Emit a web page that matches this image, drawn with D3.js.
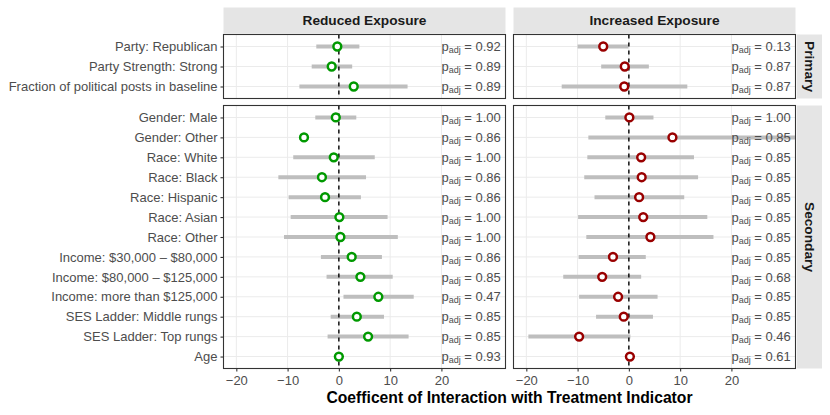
<!DOCTYPE html>
<html>
<head>
<meta charset="utf-8">
<script src="https://cdn.jsdelivr.net/npm/d3@7"></script>
<style>
  body { margin: 0; background: #fff; }
  text { font-family: "Liberation Sans", Arial, sans-serif; }
</style>
</head>
<body>
<svg id="chart" width="830" height="415"></svg>
<script>
// rows per group (top to bottom)
var primaryLabels = ["Party: Republican", "Party Strength: Strong", "Fraction of political posts in baseline"];
var secondaryLabels = ["Gender: Male", "Gender: Other", "Race: White", "Race: Black", "Race: Hispanic",
  "Race: Asian", "Race: Other", "Income: $30,000 – $80,000", "Income: $80,000 – $125,000",
  "Income: more than $125,000", "SES Ladder: Middle rungs", "SES Ladder: Top rungs", "Age"];

var facetNames = ["Reduced Exposure", "Increased Exposure"];
var groupNames = ["Primary", "Secondary"];
var xTicks = [-20, -10, 0, 10, 20];

// estimates and intervals, primary rows then secondary rows
var reducedEst  = [-0.3, -1.4, 2.9, -0.6, -6.8, -1.0, -3.3, -2.7, 0.1, 0.3, 2.5, 4.2, 7.7, 3.5, 5.7, 0.0];
var reducedLow  = [-4.4, -5.3, -7.7, -4.6, null, -8.9, -11.8, -9.8, -9.4, -10.7, -3.5, -2.4, 0.9, -1.6, -2.2, null];
var reducedHigh = [4.0, 2.6, 13.4, 3.4, null, 7.0, 5.3, 4.3, 9.5, 11.5, 8.4, 10.5, 14.6, 8.8, 13.6, null];
var reducedP    = ["0.92", "0.89", "0.89", "1.00", "0.86", "1.00", "0.86", "0.86", "1.00", "1.00", "0.86", "0.85", "0.47", "0.85", "0.85", "0.93"];

var increasedEst  = [-5.0, -0.8, -0.9, 0.1, 8.5, 2.4, 2.5, 2.0, 2.8, 4.2, -3.1, -5.2, -2.1, -1.0, -9.7, 0.2];
var increasedLow  = [-10.0, -5.4, -13.1, -4.6, -7.9, -8.1, -8.7, -6.7, -9.9, -8.3, -9.8, -12.8, -9.7, -6.4, -19.6, null];
var increasedHigh = [-0.1, 3.9, 11.4, 4.8, 34, 12.7, 13.5, 10.8, 15.3, 16.5, 3.3, 2.4, 5.6, 4.7, 0.3, null];
var increasedP    = ["0.13", "0.87", "0.87", "1.00", "0.85", "0.85", "0.85", "0.85", "0.85", "0.85", "0.85", "0.68", "0.85", "0.85", "0.46", "0.61"];

var allLabels = primaryLabels.concat(secondaryLabels);
function buildRows(est, low, high, p) {
  return allLabels.map(function(lab, i) {
    return { label: lab, group: i < primaryLabels.length ? 0 : 1,
             est: est[i], low: low[i], high: high[i], p: p[i] };
  });
}
var facets = [
  { name: facetNames[0], color: "#009900", rows: buildRows(reducedEst, reducedLow, reducedHigh, reducedP) },
  { name: facetNames[1], color: "#990000", rows: buildRows(increasedEst, increasedLow, increasedHigh, increasedP) }
];

var svg = d3.select("#chart");
var font = "'Liberation Sans', Arial, sans-serif";

// panel geometry
var colX = [[223.5, 505.5], [513.5, 795.5]];
var rowY = [[34.5, 98.5], [105.5, 368.5]];
var rowLabels = [primaryLabels, secondaryLabels];

var x = facets.map(function(f, c) {
  return d3.scaleLinear().domain([-22.5, 32.5]).range(colX[c]);
});
var y = rowLabels.map(function(labs, r) {
  return d3.scalePoint().domain(labs).range(rowY[r]).padding(0.6);
});

var defs = svg.append("defs");

facets.forEach(function(f, c) {
  // strip on top
  svg.append("rect")
    .attr("x", colX[c][0]).attr("y", 7.5)
    .attr("width", colX[c][1] - colX[c][0]).attr("height", 26)
    .attr("fill", "#e5e5e5");
  svg.append("text")
    .attr("x", (colX[c][0] + colX[c][1]) / 2).attr("y", 20.5).attr("dy", "0.36em")
    .attr("text-anchor", "middle")
    .attr("font-size", 13.7).attr("font-weight", "bold").attr("fill", "#1a1a1a")
    .text(f.name);

  groupNames.forEach(function(g, r) {
    var x0 = colX[c][0], x1 = colX[c][1], y0 = rowY[r][0], y1 = rowY[r][1];
    var id = "clip" + c + r;
    defs.append("clipPath").attr("id", id)
      .append("rect").attr("x", x0).attr("y", y0).attr("width", x1 - x0).attr("height", y1 - y0);

    var p = svg.append("g").attr("clip-path", "url(#" + id + ")");
    var rows = f.rows.filter(function(d) { return d.group === r; });

    // grid
    p.selectAll(".vg").data(xTicks).enter().append("line")
      .attr("x1", x[c]).attr("x2", x[c])
      .attr("y1", y0).attr("y2", y1)
      .attr("stroke", "#ebebeb").attr("stroke-width", 1);
    p.selectAll(".hg").data(rows).enter().append("line")
      .attr("x1", x0).attr("x2", x1)
      .attr("y1", function(d) { return y[r](d.label); })
      .attr("y2", function(d) { return y[r](d.label); })
      .attr("stroke", "#ebebeb").attr("stroke-width", 1);

    // intervals
    p.selectAll(".ci").data(rows.filter(function(d) { return d.low != null; })).enter().append("line")
      .attr("x1", function(d) { return x[c](d.low); })
      .attr("x2", function(d) { return x[c](d.high); })
      .attr("y1", function(d) { return y[r](d.label); })
      .attr("y2", function(d) { return y[r](d.label); })
      .attr("stroke", "#bebebe").attr("stroke-width", 4);

    // zero line
    p.append("line")
      .attr("x1", x[c](0)).attr("x2", x[c](0))
      .attr("y1", y0).attr("y2", y1)
      .attr("stroke", "#000").attr("stroke-width", 1.4)
      .attr("stroke-dasharray", "4,4");

    // points
    p.selectAll(".pt").data(rows).enter().append("circle")
      .attr("cx", function(d) { return x[c](d.est); })
      .attr("cy", function(d) { return y[r](d.label); })
      .attr("r", 3.9)
      .attr("fill", "#fff").attr("stroke", f.color).attr("stroke-width", 2.5);

    // p-values
    var t = p.selectAll(".pv").data(rows).enter().append("text")
      .attr("x", x[c](20))
      .attr("y", function(d) { return y[r](d.label); })
      .attr("dy", "0.36em")
      .attr("font-size", 13).attr("fill", "#4d4d4d");
    t.append("tspan").text("p");
    t.append("tspan").attr("font-size", 9).attr("dy", 2).text("adj");
    t.append("tspan").attr("dy", -2).text(function(d) { return " = " + d.p; });

    // border
    svg.append("rect")
      .attr("x", x0).attr("y", y0).attr("width", x1 - x0).attr("height", y1 - y0)
      .attr("fill", "none").attr("stroke", "#333").attr("stroke-width", 1.1);

    // y axis on left column only
    if (c === 0) {
      var ya = svg.append("g").attr("transform", "translate(" + x0 + ",0)")
        .call(d3.axisLeft(y[r]).tickSize(3).tickPadding(3));
      ya.select(".domain").remove();
      ya.selectAll(".tick line").attr("stroke", "#333").attr("stroke-width", 1.1);
      ya.selectAll(".tick text").attr("fill", "#4d4d4d").attr("font-size", 13).attr("font-family", font);
    }

    // right strips
    if (c === 1) {
      svg.append("rect")
        .attr("x", 797).attr("y", y0).attr("width", 25).attr("height", y1 - y0)
        .attr("fill", "#e5e5e5");
      svg.append("text")
        .attr("transform", "translate(809.5," + ((y0 + y1) / 2) + ") rotate(90)")
        .attr("text-anchor", "middle").attr("dy", "0.36em")
        .attr("font-size", 13.7).attr("font-weight", "bold").attr("fill", "#1a1a1a")
        .text(g);
    }
  });

  // x axis
  var xa = svg.append("g").attr("transform", "translate(0," + rowY[1][1] + ")")
    .call(d3.axisBottom(x[c]).tickValues(xTicks).tickSize(3).tickPadding(4));
  xa.select(".domain").remove();
  xa.selectAll(".tick line").attr("stroke", "#333").attr("stroke-width", 1.1);
  xa.selectAll(".tick text").attr("fill", "#4d4d4d").attr("font-size", 13).attr("font-family", font);
});

svg.append("text")
  .attr("x", (colX[0][0] + colX[1][1]) / 2).attr("y", 403)
  .attr("text-anchor", "middle")
  .attr("font-size", 15.7).attr("font-weight", "bold").attr("fill", "#000")
  .text("Coefficent of Interaction with Treatment Indicator");
</script>
</body>
</html>
